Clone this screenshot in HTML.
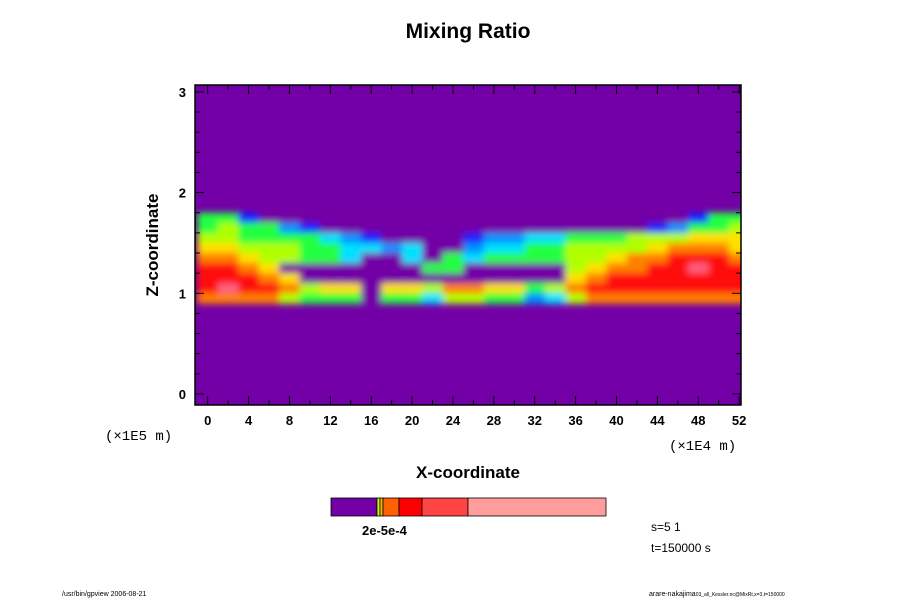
<!DOCTYPE html>
<html><head><meta charset="utf-8"><style>
body{margin:0;background:#fff;}
svg{display:block;font-family:"Liberation Sans",sans-serif;}
</style></head><body>
<svg id="chart" width="900" height="600" viewBox="0 0 900 600">
<text x="468" y="38" text-anchor="middle" font-size="21" font-weight="bold">Mixing Ratio</text>
<defs><clipPath id="pc"><rect x="195" y="85" width="546" height="320"/></clipPath>
<filter id="sm" x="-5%" y="-20%" width="110%" height="140%"><feGaussianBlur stdDeviation="3.5"/></filter></defs>
<rect x="195" y="85" width="546" height="320" fill="#7300a6"/>
<g id="cells" clip-path="url(#pc)"><g id="cellsInner" filter="url(#sm)"></g></g>
<g id="axes"></g>
<rect x="195" y="85" width="546" height="320" fill="none" stroke="#000" stroke-width="1.5"/>
<text x="158" y="245" transform="rotate(-90 158 245)" text-anchor="middle" font-size="17" font-weight="bold">Z-coordinate</text>
<text x="468" y="478" text-anchor="middle" font-size="17" font-weight="bold">X-coordinate</text>
<text x="105" y="440" font-size="14" font-family="Liberation Mono,monospace">(×1E5 m)</text>
<text x="669" y="450" font-size="14" font-family="Liberation Mono,monospace">(×1E4 m)</text>
<g id="cbar"></g>
<text x="362" y="535" font-size="13" font-weight="bold">2e-5e-4</text>
<text x="651" y="531" font-size="12">s=5 1</text>
<text x="651" y="552" font-size="12">t=150000 s</text>
<text x="62" y="596" font-size="7">/usr/bin/gpview 2006-08-21</text>
<text x="649" y="596" font-size="7">arare-nakajima<tspan font-size="5">03_all_Kessler.nc@MixRt,x=3,t=150000</tspan></text>
</svg>
<script>
const xCenters=[0,2,4,6,8,10,12,14,16,18,20,22,24,26,28,30,32,34,36,38,40,42,44,46,48,50,52];
const zCenters=[1.75,1.65,1.55,1.45,1.35,1.25,1.15,1.05,0.95];
const row175=[4,4,1,0,0,0,0,0,0,0,0,0,0,0,0,0,0,0,0,0,0,0,0,0,1,4,4];
const row165=[4,5,4,4,2,1,0,0,0,0,0,0,0,0,0,0,0,0,0,0,0,0,1,2,4,4,5];
const row155=[5,5,4,4,4,4,3,2,1,0,0,0,0,1,2,2,3,3,4,4,4,5,5,5,6,6,6];
const row145=[6,6,5,5,5,4,4,3,3,2,3,0,0,2,3,3,4,4,5,5,5,5,6,7,7,7,6];
const row135=[7,7,6,5,5,4,4,3,0,0,3,0,4,3,4,4,4,4,5,5,6,7,7,8,8,8,7];
const row125=[8,8,7,6,0,0,0,0,0,0,0,4,4,0,0,0,0,0,5,6,7,7,8,8,9,8,8];
const row115=[8,8,8,7,6,0,0,0,0,0,0,0,0,0,0,0,0,0,6,7,8,8,8,8,8,8,8];
const row105=[8,9,8,8,7,5,6,6,0,6,6,5,7,7,6,6,4,5,7,8,8,8,8,8,8,8,8];
const row095=[7,7,7,7,5,4,4,4,0,4,4,3,5,5,4,4,2,3,5,7,7,7,7,7,7,7,7];
const rows=[row175,row165,row155,row145,row135,row125,row115,row105,row095];
const palette=["#7300a6","#1a1aff","#0090ff","#00e0ff","#20ff40","#b0ff00","#ffe000","#ff8000","#ff1010","#ff6080"];
const xTicks=[0,4,8,12,16,20,24,28,32,36,40,44,48,52];
const yTicks=[0,1,2,3];
const cbColors=["#7300a6","#c0ff00","#ffb000","#ff6000","#ff0000","#ff4444","#ff9c9c"];
const cbBounds=[0,46,49,52,68,91,137,275];
const NS="http://www.w3.org/2000/svg";
const sx=v=>207.7+v*10.22, sz=v=>394-v*100.7;
const g=document.getElementById('cellsInner');
rows.forEach((r,i)=>r.forEach((v,j)=>{
 const e=document.createElementNS(NS,'rect');
 e.setAttribute('x',sx(xCenters[j]-1));e.setAttribute('width',10.22*2+0.5);
 e.setAttribute('y',sz(zCenters[i]+0.05));e.setAttribute('height',10.07+0.5);
 e.setAttribute('fill',palette[v]);
 
 
 g.appendChild(e);}));
const ax=document.getElementById('axes');
function line(x1,y1,x2,y2){const l=document.createElementNS(NS,'line');l.setAttribute('x1',x1);l.setAttribute('y1',y1);l.setAttribute('x2',x2);l.setAttribute('y2',y2);l.setAttribute('stroke','#000');


ax.appendChild(l);}
function txt(x,y,s,a){const t=document.createElementNS(NS,'text');t.setAttribute('x',x);t.setAttribute('y',y);t.setAttribute('text-anchor',a);t.setAttribute('font-size','13');t.setAttribute('font-weight','bold');t.textContent=s;


ax.appendChild(t);}
for(let v=0;v<=52;v+=2){const x=sx(v),L=v%4===0?9:5;line(x,405,x,405-L);line(x,85,x,85+L);}
xTicks.forEach(v=>txt(sx(v),425,String(v),'middle'));
for(let v=0;v<=3.001;v+=0.2){const y=sz(v),L=Math.abs(v-Math.round(v))<0.01?9:5;line(195,y,195+L,y);line(741,y,741-L,y);}
yTicks.forEach(v=>txt(186,sz(v)+5,String(v),'end'));
const cb=document.getElementById('cbar');
cbColors.forEach((c,i)=>{const r=document.createElementNS(NS,'rect');r.setAttribute('x',331+cbBounds[i]);r.setAttribute('width',cbBounds[i+1]-cbBounds[i]);r.setAttribute('y',498);r.setAttribute('height',18);r.setAttribute('fill',c);r.setAttribute('stroke','#000');r.setAttribute('stroke-width','0.8');


cb.appendChild(r);});
</script>
</body></html>
